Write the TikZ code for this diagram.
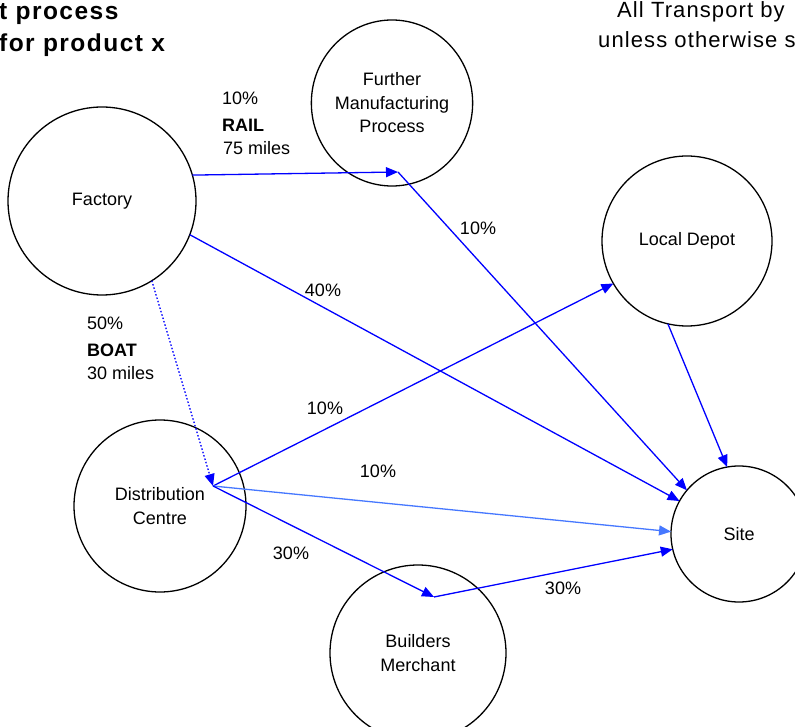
\documentclass[tikz,border=0pt]{standalone}
\usepackage{fontspec}
\setmainfont{Liberation Sans}
\usetikzlibrary{arrows.meta,shapes.geometric}

\newcommand\dgmfont{\fontsize{18}{23.5}\selectfont}
\newcommand\dgmtitlefont{\fontsize{24.5}{30}\selectfont\bfseries\addfontfeature{LetterSpace=6}}
\newcommand\dgmnotefont{\fontsize{22}{27}\selectfont\addfontfeature{LetterSpace=5}}

\definecolor{flowblue}{RGB}{0,0,255}
\definecolor{flowlight}{RGB}{70,120,255}

\begin{document}
\begin{tikzpicture}[x=1pt,y=-1pt,
  place/.style={circle, draw=black, line width=1.3pt, inner sep=0pt,
    outer sep=0pt, align=center, font=\dgmfont},
  flow/.style={draw=flowblue, line width=1.3pt,
    -{Triangle[length=12pt,width=10pt]}},
  lightflow/.style={flow, draw=flowlight},
  boatflow/.style={flow, dash pattern=on 1.5pt off 2pt},
  tag/.style={font=\dgmfont, inner sep=0pt, align=left}]

\useasboundingbox (0,0) rectangle (795,727);
\clip (0,0) rectangle (795,727);

% headings
\node[anchor=west, font=\dgmtitlefont, inner sep=0pt] (title1) at (-1,14) {t process};
\node[anchor=west, font=\dgmtitlefont, inner sep=0pt] (title2) at (-1,45) {for product x};
\node[anchor=west, font=\dgmnotefont, inner sep=0pt] (note1) at (617,12) {All Transport by};
\node[anchor=west, font=\dgmnotefont, inner sep=0pt] (note2) at (598,40) {unless otherwise s};

% places
\node[place, minimum size=188pt] (factory) at (102,201) {Factory};
\node[place, ellipse, minimum width=158pt, minimum height=166pt] (further) at (392,103)
  {Further\\Manufacturing\\Process};
\node[place, minimum size=170pt] (depot) at (687,241) {Local Depot};
\node[place, minimum size=172pt] (dist) at (160,506) {Distribution\\Centre};
\node[place, minimum size=136pt] (site) at (739,534) {Site};
\node[place, minimum size=176pt] (builders) at (418,653) {Builders\\Merchant};

% junction points inside the places
\coordinate (railkink) at (398,172);
\coordinate (hub) at (213,486);
\coordinate (bmkink) at (434,597);

% flows
\draw[flow] (factory.16) -- (railkink);
\draw[flow] (railkink) -- (site.140);
\draw[flow] (factory.-21) -- (site.151);
\draw[boatflow] (factory.-58) -- (hub);
\draw[flow] (hub) -- (depot.210);
\draw[lightflow] (hub) -- (site.178);
\draw[flow] (hub) -- (bmkink);
\draw[flow] (bmkink) -- (site.193);
\draw[flow] (depot.257) -- (site.100);

% flow labels
\node[tag, anchor=west] (railpct) at (222,98) {10\%};
\node[tag, anchor=west, font=\dgmfont\bfseries] (rail) at (222,125) {RAIL};
\node[tag, anchor=west] (raildist) at (223,148) {75 miles};
\node[tag, anchor=west] (boatpct) at (87,323) {50\%};
\node[tag, anchor=west, font=\dgmfont\bfseries] (boat) at (87,350) {BOAT};
\node[tag, anchor=west] (boatdist) at (87,373) {30 miles};
\node[tag] (furtherpct) at (478,228) {10\%};
\node[tag] (sitepct) at (323,290) {40\%};
\node[tag] (depotpct) at (325,408) {10\%};
\node[tag] (directpct) at (378,471) {10\%};
\node[tag] (bmpct) at (291,553) {30\%};
\node[tag] (bmsitepct) at (563,588) {30\%};

\end{tikzpicture}
\end{document}
